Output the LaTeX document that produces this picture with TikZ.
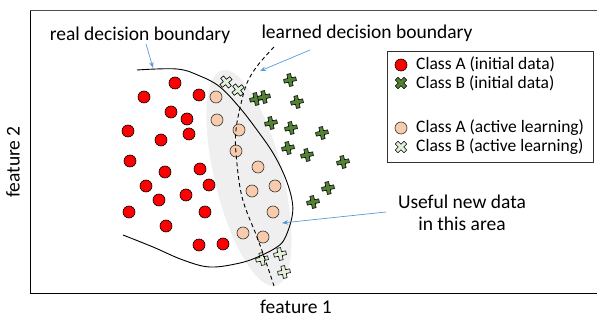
\documentclass[tikz,border=0pt]{standalone}
\usepackage{fontspec}
\setmainfont{Carlito}
\usetikzlibrary{arrows.meta}
\definecolor{redA}{HTML}{FF0000}
\definecolor{peachA}{HTML}{F8CBAD}
\definecolor{greenB}{HTML}{548235}
\definecolor{lightB}{HTML}{E2F0D9}
\definecolor{arrowblue}{HTML}{5B9BD5}
\definecolor{areagray}{HTML}{EFEFEF}
\newcommand\mkcross[4]{%
  \draw[crossline, fill=#4, shift={(#1,#2)}, rotate=#3]
    (1.9,6.2)--(1.9,1.9)--(6.2,1.9)--(6.2,-1.9)--(1.9,-1.9)--(1.9,-6.2)--(-1.9,-6.2)--(-1.9,-1.9)--(-6.2,-1.9)--(-6.2,1.9)--(-1.9,1.9)--(-1.9,6.2)--cycle;}
\begin{document}
\begin{tikzpicture}[x=1pt,y=-1pt,
  ptA/.style={circle, draw=black, line width=0.6pt, fill=redA, minimum size=12pt, inner sep=0pt},
  ptP/.style={circle, draw=black!80, line width=0.6pt, fill=peachA, minimum size=12pt, inner sep=0pt},
  crossline/.style={draw=black, line width=0.6pt, line join=round},
  arr/.style={draw=arrowblue, line width=0.7pt, -{Stealth[length=6pt,width=4.5pt]}},
  lbl/.style={font=\fontsize{19.5}{22}\selectfont, inner sep=0pt},
  leg/.style={font=\fontsize{17.5}{20}\selectfont, anchor=west, inner sep=0pt}]
\useasboundingbox (0,0) rectangle (597,320);
% frame
\draw[line width=0.8pt] (598,293) -- (30,293) -- (30,10.5);
\draw[line width=1pt, black!70] (30,10.5) -- (598,10.5);
% gray area
\fill[areagray, rotate around={14:(249,178)}] (249,178) ellipse [x radius=34, y radius=111];
% red circles
\foreach \p [count=\i] in {(175,83),(144,97),(199,95),(171,112),(187,119),(128,131),(161,140),(189,134),(130,161),(165,172),(200,169),(146,186),(209,185),(186,195),(159,200),(129,212),(205,212),(166,226),(199,245),(223,244)}
  \node[ptA] (a\i) at \p {};
% peach circles
\foreach \p [count=\i] in {(216,97),(217,120),(239,130),(236,151),(258,167),(252,191),(275,186),(273,212),(243,233),(263,237)}
  \node[ptP] (p\i) at \p {};
% dark green crosses
\foreach \x/\y in {290/80,256/99,264/97,297/102,271/123,291/128,322/133,288/148,307/155,343/162,328/188,313/202}
  \mkcross{\x}{\y}{12}{greenB};
% light crosses
\mkcross{226}{82}{38}{lightB}
\mkcross{238}{90}{38}{lightB}
\mkcross{262}{259}{12}{lightB}
\mkcross{280}{254}{12}{lightB}
\mkcross{284}{272}{12}{lightB}
% real decision boundary
\draw[line width=0.9pt] plot[smooth, tension=0.6] coordinates {(137,70) (177,69) (200,76) (220,87) (240,108) (257,130) (273,153) (285,177) (292,200) (292,217) (285,238) (277,247) (260,256) (240,263) (210,267) (183,260) (153,247) (123,235)};
% learned decision boundary
\draw[line width=0.9pt, dashed, dash pattern=on 4pt off 3pt] plot[smooth, tension=0.6] coordinates {(274,47) (258,65) (247,83) (240,108) (236,130) (236,153) (242,197) (257,237) (266,262) (274,286)};
% labels
\node[lbl] (rdb) at (140,35) {real decision boundary};
\node[lbl] (ldb) at (367,33) {learned decision boundary};
\node[lbl, align=center] (use) at (462,213) {Useful new data\\in this area};
\coordinate (rdbT) at (146,44);
\coordinate (rdbH) at (153,68);
\coordinate (ldbT) at (310,50);
\coordinate (ldbH) at (260,71);
\coordinate (useT) at (386,212);
\coordinate (useH) at (282,223);
\draw[arr] (rdbT) -- (rdbH);
\draw[arr] (ldbT) -- (ldbH);
\draw[arr] (useT) -- (useH);
% axes labels
\node[lbl] (f1) at (296,307) {feature 1};
\node[lbl, rotate=90] (f2) at (13,162) {feature 2};
% legend
\draw[line width=0.8pt, black!80] (387,51) rectangle (593,162);
\node[ptA] (la) at (401,65) {};
\mkcross{401}{83}{45}{greenB}
\node[ptP] (lp) at (401,128) {};
\mkcross{401}{147}{45}{lightB}
\node[leg] (t1) at (416,64) {Class A (initial data)};
\node[leg] (t2) at (416,83) {Class B (initial data)};
\node[leg] (t3) at (416,128) {Class A (active learning)};
\node[leg] (t4) at (416,147) {Class B (active learning)};
\end{tikzpicture}
\end{document}
